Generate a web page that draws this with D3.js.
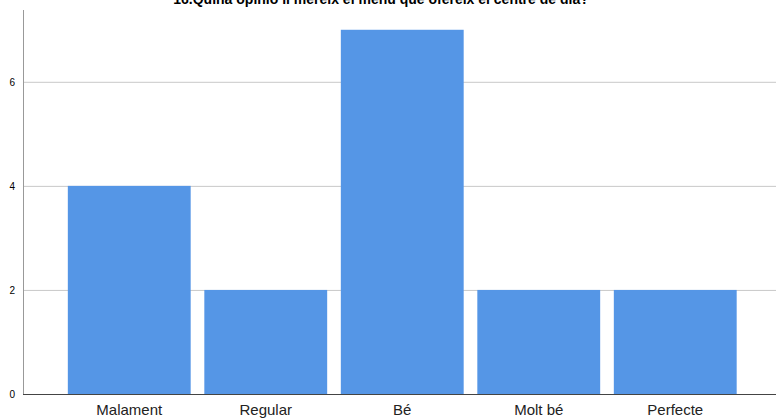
<!DOCTYPE html>
<html><head><meta charset="utf-8">
<script src="https://cdn.jsdelivr.net/npm/d3@7"></script>
<style>body{margin:0;background:#fff}svg{display:block}</style>
</head><body>
<script>
const title = "16.Quina opinió li mereix el menú que ofereix el centre de dia?";
const categories = ["Malament","Regular","Bé","Molt bé","Perfecte"];
const values = [4,2,7,2,2];
const yTicks = [0,2,4,6];

const W = 776, H = 419;
const svg = d3.select("body").append("svg").attr("width",W).attr("height",H);
const x = d3.scaleBand().domain(categories).range([61,743.5]).paddingInner(0.1).paddingOuter(0.05);
const y = d3.scaleLinear().domain([0,7.38]).range([394,10]);

// gridlines
svg.append("g").selectAll("line").data(yTicks.filter(d=>d>0)).join("line")
  .attr("x1",23).attr("x2",W).attr("y1",d=>y(d)+0.5).attr("y2",d=>y(d)+0.5)
  .attr("stroke","#c8c8c8").attr("stroke-width",1);

// bars
svg.append("g").selectAll("rect").data(values).join("rect")
  .attr("x",(d,i)=>x(categories[i])).attr("width",x.bandwidth())
  .attr("y",d=>y(d)).attr("height",d=>y(0)-y(d))
  .attr("fill","#5596e6");

// y axis
const ya = svg.append("g").attr("transform","translate(23,0)")
  .call(d3.axisLeft(y).tickValues(yTicks).tickSize(0).tickPadding(8).tickFormat(d3.format("d")));
ya.select(".domain").remove();
ya.selectAll("text").attr("font-family","Liberation Sans, Arial, sans-serif").attr("font-size",10).attr("fill","#000");
svg.append("line").attr("x1",23.5).attr("x2",23.5).attr("y1",10).attr("y2",394).attr("stroke","#999").attr("stroke-width",1);

// x axis
const xa = svg.append("g").attr("transform","translate(0,394)")
  .call(d3.axisBottom(x).tickSize(0).tickPadding(10));
xa.select(".domain").remove();
xa.selectAll("text").attr("font-family","Liberation Sans, Arial, sans-serif").attr("font-size",15).attr("fill","#222").attr("dy","0.71em");
svg.append("line").attr("x1",23).attr("x2",W).attr("y1",394.5).attr("y2",394.5).attr("stroke","#444").attr("stroke-width",1);

// title
svg.append("text").attr("x",381).attr("y",4).attr("text-anchor","middle")
  .attr("font-family","Liberation Sans, Arial, sans-serif").attr("font-size",14).attr("font-weight","bold")
  .attr("fill","#000").text(title);
</script>
</body></html>
